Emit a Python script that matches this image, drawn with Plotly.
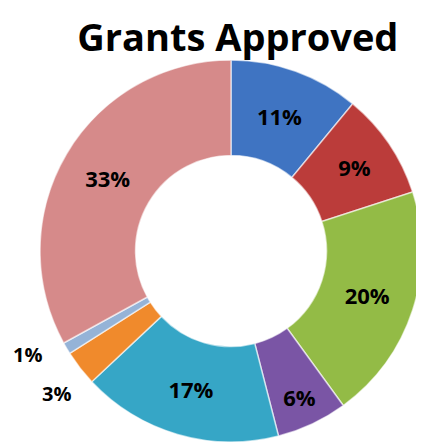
import plotly.graph_objects as go

categories = ["A", "B", "C", "D", "E", "F", "G", "H"]
values = [11, 9, 20, 6, 17, 3, 1, 33]
labels = ["11%", "9%", "20%", "6%", "17%", "3%", "1%", "33%"]
colors = ["#3f74c2", "#bb3c3a", "#93bb46", "#7a55a5", "#36a6c6", "#f08a2c", "#95b3d7", "#d68a8a"]
inside_text = [t if v >= 5 else "" for t, v in zip(labels, values)]

label_font = dict(family="Open Sans", size=22, color="black", weight="bold")
small_font = dict(family="Open Sans", size=20, color="black", weight="bold")

fig = go.Figure(go.Pie(
    labels=categories,
    values=values,
    text=inside_text,
    textinfo="text",
    textposition="inside",
    insidetextorientation="horizontal",
    hole=0.5,
    sort=False,
    direction="clockwise",
    rotation=0,
    marker=dict(colors=colors, line=dict(color="rgba(255,255,255,0.6)", width=1.5)),
    textfont=label_font,
    showlegend=False,
))

# small-slice labels placed outside on the left
fig.add_annotation(text=labels[6], x=-0.032, y=0.228, xref="paper", yref="paper",
                   xanchor="center", yanchor="middle", showarrow=False, font=small_font)
fig.add_annotation(text=labels[5], x=0.042, y=0.128, xref="paper", yref="paper",
                   xanchor="center", yanchor="middle", showarrow=False, font=small_font)

fig.update_layout(
    width=424, height=442,
    margin=dict(l=32, r=10, t=52, b=8),
    paper_bgcolor="white",
    title=dict(text="<b>Grants Approved</b>", x=0.542, xanchor="center", y=0.933, yanchor="middle",
               font=dict(family="Open Sans", size=38, color="black")),
)

fig.write_html("out.html")
